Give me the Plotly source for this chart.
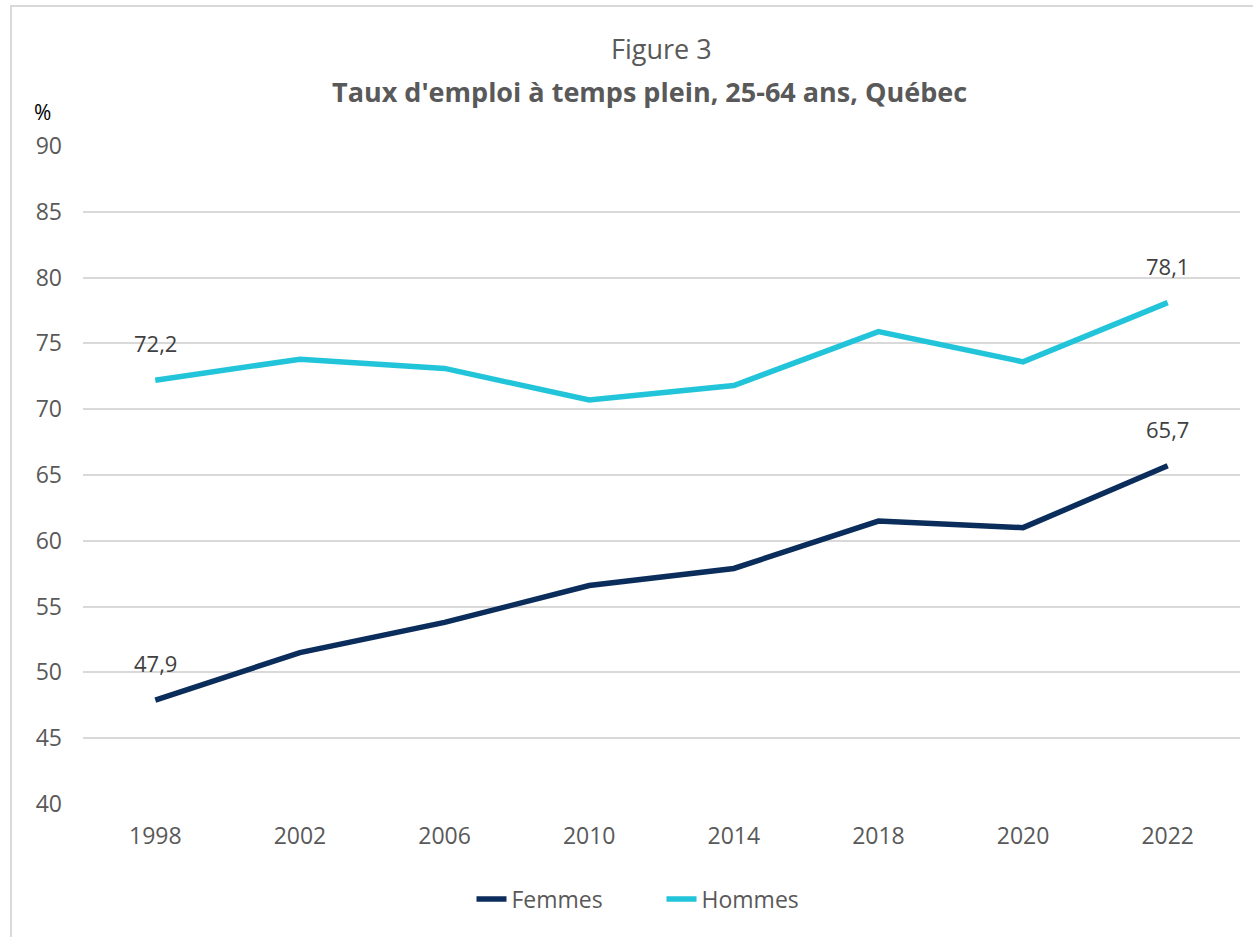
import plotly.graph_objects as go

years = ["1998", "2002", "2006", "2010", "2014", "2018", "2020", "2022"]
femmes = [47.9, 51.5, 53.8, 56.6, 57.9, 61.5, 61.0, 65.7]
hommes = [72.2, 73.8, 73.1, 70.7, 71.8, 75.9, 73.6, 78.1]
y_ticks = [40, 45, 50, 55, 60, 65, 70, 75, 80, 85, 90]

FONT = "Open Sans"
GREY = "#595959"

fig = go.Figure()
fig.add_trace(go.Scatter(x=years, y=femmes, mode="lines", name="Femmes",
                         line=dict(color="#0b2d5b", width=5.5)))
fig.add_trace(go.Scatter(x=years, y=hommes, mode="lines", name="Hommes",
                         line=dict(color="#22c4d9", width=5.5)))

# labels on first and last points only (x by category index)
for series in (femmes, hommes):
    for i in (0, len(years) - 1):
        fig.add_annotation(x=i, y=series[i], text=f"{series[i]:.1f}".replace(".", ","),
                           showarrow=False, yshift=37,
                           font=dict(family=FONT, size=22, color="#404040"))

fig.add_annotation(xref="paper", yref="paper", x=1 / 2, y=1.1489, text="Figure 3",
                   showarrow=False, xanchor="center", yanchor="middle",
                   font=dict(family=FONT, size=27, color=GREY))
fig.add_annotation(xref="paper", yref="paper", x=0.4898, y=1.0821,
                   text="<b>Taux d'emploi à temps plein, 25-64 ans, Québec</b>",
                   showarrow=False, xanchor="center", yanchor="middle",
                   font=dict(family=FONT, size=27, color=GREY))
fig.add_annotation(xref="paper", yref="paper", x=-0.0354, y=1.0517, text="%",
                   showarrow=False, xanchor="center", yanchor="middle",
                   font=dict(family=FONT, size=21, color="#000000"))

# chart border
fig.add_shape(type="rect", xref="paper", yref="paper", x0=-0.0622, x1=1.2,
              y0=-0.6, y1=1.2128, line=dict(color="#d9d9d9", width=2))

fig.update_layout(
    width=1253, height=937,
    margin=dict(l=83, r=13, t=146, b=133),
    paper_bgcolor="white", plot_bgcolor="white",
    xaxis=dict(type="category", range=[-0.5, 7.5], showgrid=False, showline=False,
               ticks="", ticklabelstandoff=16,
               tickfont=dict(family=FONT, size=23, color=GREY)),
    yaxis=dict(range=[40, 90], tickvals=y_ticks, showgrid=True, gridcolor="#d9d9d9",
               gridwidth=1.5, zeroline=False, showline=False, ticks="", ticklabelstandoff=20,
               tickfont=dict(family=FONT, size=23, color=GREY)),
    legend=dict(orientation="h", x=0.5, xanchor="center", y=-0.1444, yanchor="middle",
                entrywidth=145, font=dict(family=FONT, size=23, color=GREY)),
    showlegend=True,
)

fig.write_html("out.html", config={"displayModeBar": False},
               post_script="document.body.style.margin='0';")
